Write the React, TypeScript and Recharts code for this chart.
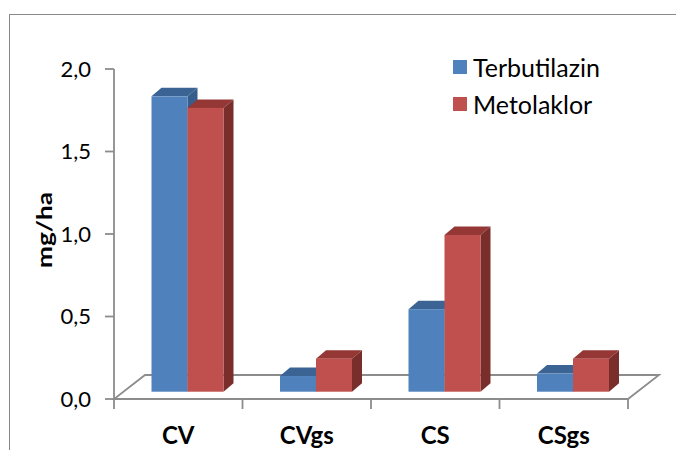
import React from 'react';
import { BarChart, Bar, XAxis, YAxis, Legend, ReferenceLine } from 'recharts';

const categories = ['CV', 'CVgs', 'CS', 'CSgs'];
const seriesNames = ['Terbutilazin', 'Metolaklor'];
const terbutilazin = [1.79, 0.095, 0.5, 0.11];
const metolaklor = [1.72, 0.2, 0.95, 0.2];
const yTicks = [0, 0.5, 1, 1.5, 2];

const data = categories.map((name, i) => ({
  name,
  Terbutilazin: terbutilazin[i],
  Metolaklor: metolaklor[i],
}));

const BLUE = '#4F81BD';
const RED = '#C0504D';
const GRID = '#8C8C8C';
const FONT = 'Lato, "Open Sans", sans-serif';

// bars sit a bit back on the floor
const SHIFT_X = 9.5;
const SHIFT_Y = 7.3;
const BAR_DX = 10;
const BAR_DY = 8.5;
const FLOOR_DX = 31;
const FLOOR_DY = 24;

function Box3D(props: any) {
  const { x, y, width, height, fill, top, side } = props;
  if (!width || height == null) return null;
  const fx = x + SHIFT_X;
  const fy = y - SHIFT_Y;
  const r = fx + width;
  const b = fy + height;
  return (
    <g>
      <polygon
        points={`${fx},${fy} ${r},${fy} ${r + BAR_DX},${fy - BAR_DY} ${fx + BAR_DX},${fy - BAR_DY}`}
        fill={top}
      />
      <polygon
        points={`${r},${fy} ${r + BAR_DX},${fy - BAR_DY} ${r + BAR_DX},${b - BAR_DY} ${r},${b}`}
        fill={side}
      />
      <rect x={fx} y={fy} width={width} height={height} fill={fill} />
    </g>
  );
}

function Floor(props: any) {
  const { x1, x2, y1 } = props;
  const n = categories.length;
  const step = (x2 - x1) / n;
  return (
    <g>
      <polygon
        points={`${x1},${y1} ${x2},${y1} ${x2 + FLOOR_DX},${y1 - FLOOR_DY} ${x1 + FLOOR_DX},${y1 - FLOOR_DY}`}
        fill="#fff"
        stroke={GRID}
        strokeWidth={1.8}
      />
      {Array.from({ length: n + 1 }, (_, k) => (
        <line
          key={k}
          x1={x1 + k * step}
          x2={x1 + k * step}
          y1={y1}
          y2={y1 + 10}
          stroke={GRID}
          strokeWidth={1.8}
        />
      ))}
    </g>
  );
}

function CatTick(props: any) {
  const { x, y, payload } = props;
  return (
    <text x={x} y={y + 37} textAnchor="middle" fontFamily={FONT} fontWeight="bold" fontSize={24} fill="#000">
      {payload.value}
    </text>
  );
}

function ValueTick(props: any) {
  const { x, y, payload } = props;
  return (
    <text x={x} y={y + 7.8} textAnchor="end" fontFamily={FONT} fontSize={22} fill="#000">
      {payload.value.toFixed(1).replace('.', ',')}
    </text>
  );
}

function LegendBox(props: any) {
  const items = [...props.payload].sort(
    (a: any, b: any) => seriesNames.indexOf(a.value) - seriesNames.indexOf(b.value),
  );
  return (
    <div style={{ fontFamily: FONT, fontSize: 25, color: '#000' }}>
      {items.map((p: any) => (
        <div key={p.value} style={{ display: 'flex', alignItems: 'center', height: 36.7 }}>
          <span style={{ width: 14, height: 14, background: p.color, marginRight: 6, display: 'inline-block' }} />
          <span>{p.value}</span>
        </div>
      ))}
    </div>
  );
}

function AxisTitle(props: any) {
  const { viewBox } = props;
  const cx = viewBox.x + 52;
  const cy = viewBox.y + viewBox.height / 2 - 4;
  return (
    <text
      x={cx}
      y={cy}
      transform={`rotate(-90, ${cx}, ${cy})`}
      textAnchor="middle"
      fontFamily={FONT}
      fontWeight="bold"
      fontSize={21}
      textLength={76}
      lengthAdjust="spacingAndGlyphs"
      fill="#000"
    >
      mg/ha
    </text>
  );
}

export default function App() {
  return (
    <div style={{ position: 'absolute', left: 0, top: 0, width: 676, height: 450, overflow: 'hidden', background: '#fff' }}>
      <div
        style={{
          position: 'absolute',
          left: 9,
          top: 14,
          width: 800,
          height: 600,
          border: '1px solid #898989',
        }}
      />
      <div style={{ position: 'absolute', left: 0, top: 0 }}>
        <BarChart
          width={676}
          height={450}
          data={data}
          margin={{ top: 69, right: 48, bottom: 0, left: 0 }}
          barSize={36}
          barGap={0}
        >
          <ReferenceLine y={0} shape={(p: any) => <Floor {...p} />} zIndex={0} />
          <XAxis dataKey="name" axisLine={false} tickLine={false} height={51} tick={<CatTick />} interval={0} />
          <YAxis
            width={114}
            domain={[0, 2]}
            ticks={yTicks}
            tick={<ValueTick />}
            tickSize={9}
            tickMargin={14}
            axisLine={{ stroke: GRID, strokeWidth: 1.8 }}
            tickLine={{ stroke: GRID, strokeWidth: 1.8 }}
            label={<AxisTitle />}
          />
          <Legend
            layout="vertical"
            align="center"
            verticalAlign="middle"
            content={<LegendBox />}
            wrapperStyle={{ left: 453, top: 49, width: 200 }}
          />
          <Bar
            dataKey="Terbutilazin"
            fill={BLUE}
            isAnimationActive={false}
            shape={(p: any) => <Box3D {...p} top="#3B6494" side="#375D8B" />}
          />
          <Bar
            dataKey="Metolaklor"
            fill={RED}
            isAnimationActive={false}
            shape={(p: any) => <Box3D {...p} top="#953835" side="#7A2E2C" />}
          />
        </BarChart>
      </div>
    </div>
  );
}
